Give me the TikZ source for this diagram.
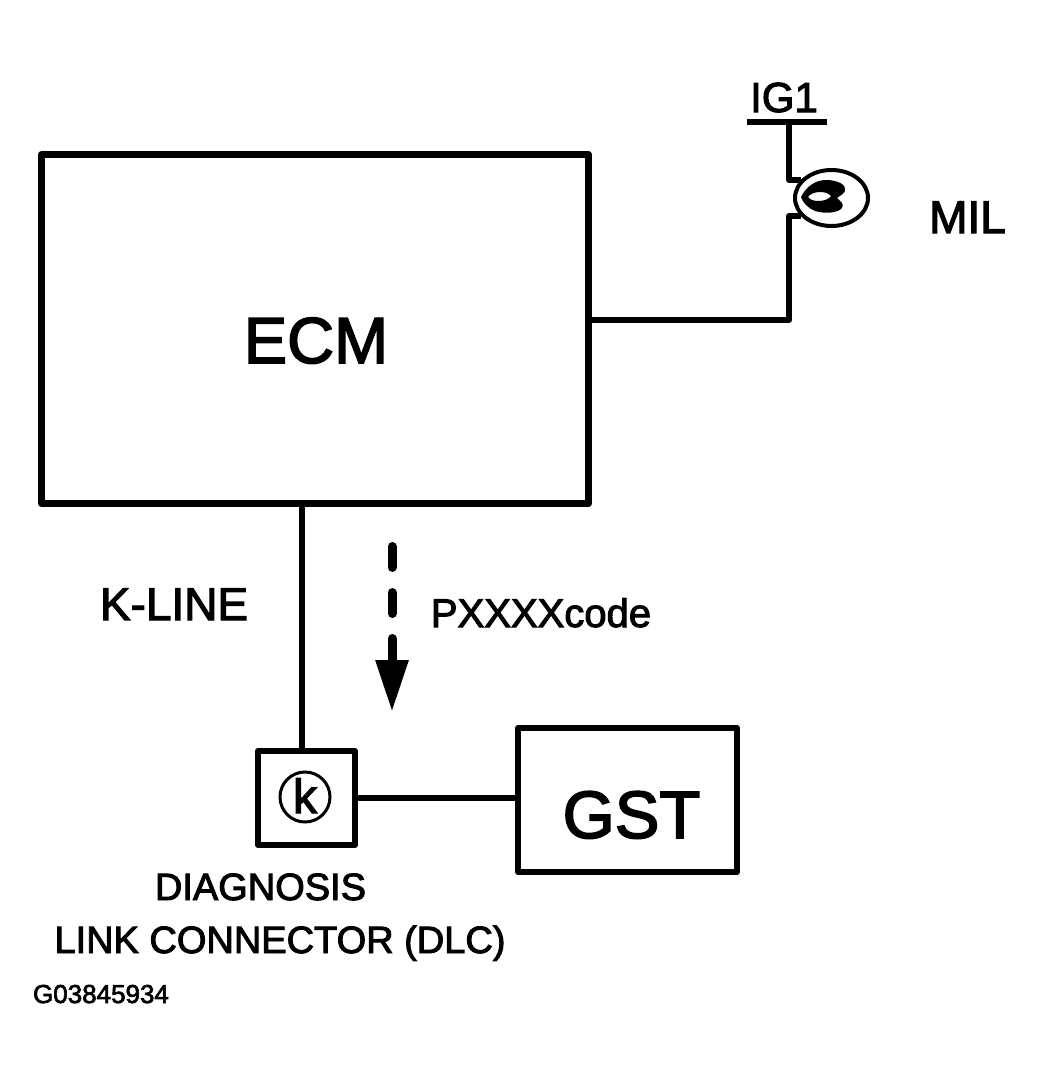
\documentclass[tikz,border=0pt]{standalone}
\usepackage{fontspec}
\newfontfamily\hv{Liberation Sans}[FakeBold=2.5]
\usetikzlibrary{shapes.geometric,arrows.meta,calc}
\begin{document}
\begin{tikzpicture}[x=1pt,y=-1pt,
  wire/.style={line width=6pt},
  box/.style={draw, line width=6pt, line join=round, inner sep=0pt, outer sep=0pt},
  txt/.style={font=\hv\fontsize{#1}{#1}\selectfont, inner sep=0pt, outer sep=0pt, anchor=base},
  codearrow/.style={line width=9pt, line cap=round, dash pattern=on 21pt off 25pt, -{Triangle[length=52pt,width=31pt]}}
]
\fill[white] (0,0) rectangle (1044,1079);
\useasboundingbox (0,0) rectangle (1044,1079);

% boxes
\node[box, line width=7pt, minimum width=547pt, minimum height=349pt] (ECM) at (315,329) {};
\node[txt=65] (ECMt) at (316,363) {ECM};
\node[box, minimum width=219pt, minimum height=144pt] (GST) at (627.5,800) {};
\node[txt=67] (GSTt) at (631.5,838) {GST};
\node[box, minimum width=97pt, minimum height=94pt] (DLC) at (306.5,798) {};
\node[draw, circle, line width=3pt, minimum size=50pt, inner sep=0pt] (kc) at (305,797) {};
\node[txt=48] (kt) at (305,813) {k};

% MIL bulb
\node[draw, ellipse, line width=4pt, minimum width=73pt, minimum height=56pt, inner sep=0pt] (bulb) at (831.5,198) {};
\fill[even odd rule] (801,197) .. controls (806,187) and (815,180) .. (826,180)
  .. controls (838,180) and (847,185) .. (845,191)
  .. controls (843,195) and (839,196) .. (837,198)
  .. controls (839,200) and (845,204) .. (842,208)
  .. controls (838,213) and (825,214) .. (815,211)
  .. controls (808,208) and (803,203) .. (801,197) -- cycle
  (808,197) .. controls (812,191) and (826,190) .. (831,196)
  .. controls (827,202) and (812,203) .. (808,197) -- cycle;

% IG1
\coordinate (IGl) at (747,122);
\coordinate (IGr) at (827,122);
\coordinate (IGj) at (789,122);
\draw[line width=6pt] (IGl) -- (IGr);
\node[txt=42] (IG1) at (784,112) {IG1};
\node[txt=46] (MIL) at (967.5,233) {MIL};

% wires
\draw[wire, line join=round] (IGj) |- (bulb.149);
\coordinate (MILc) at (789,320);
\draw[wire, line join=round] (bulb.211) -| (MILc) -- (MILc -| ECM.east);
\draw[wire] ([xshift=-4.5pt]DLC.north |- ECM.south) -- ([xshift=-4.5pt]DLC.north);
\draw[wire] (DLC.east) -- (DLC.east -| GST.west);

% labels
\node[txt=46] (KL) at (174,620) {K-LINE};
\coordinate (arrS) at (392,546.5);
\coordinate (arrE) at (392,712);
\draw[codearrow] (arrS) -- (arrE);
\node[txt=40] (code) at (541,627) {PXXXXcode};
\node[txt=38] (diag1) at (260.5,900) {DIAGNOSIS};
\node[txt=38] (diag2) at (280,953) {LINK CONNECTOR (DLC)};
\node[txt=26] (fig) at (101,1003) {G03845934};
\end{tikzpicture}
\end{document}
